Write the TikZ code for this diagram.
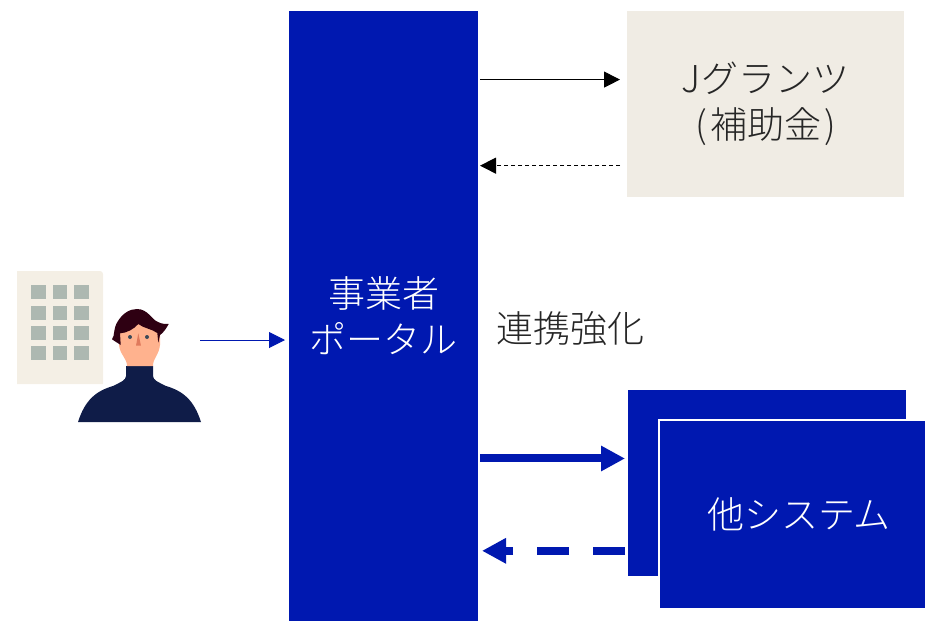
\documentclass[tikz,border=0pt]{standalone}
\usepackage{fontspec}
\usepackage{tikz}
\usetikzlibrary{
        arrows.meta,
        positioning
    }
\newfontfamily\jpfont{Noto Sans CJK JP Light}
\definecolor{portalblue}{HTML}{0018B0}
\definecolor{sandbox}{HTML}{F0ECE4}
\definecolor{towerbox}{HTML}{F4EFE5}
\definecolor{towerpane}{HTML}{ADB8B1}
\definecolor{sweater}{HTML}{0F1C48}
\definecolor{skin}{HTML}{FFB28E}
\definecolor{hair}{HTML}{2E0012}
\definecolor{nose}{HTML}{E07A5C}
\definecolor{eye}{HTML}{3C4A58}
\tikzset{
    label36/.style={font=\jpfont\fontsize{37}{46}\selectfont,align=center,inner sep=0pt},
    block/.style={label36,minimum height=186pt,minimum width=278pt,outer sep=0pt},
    thin flow/.style={line width=1pt,-{Triangle[length=16pt,width=16pt]}},
    thick flow/.style={portalblue,line width=8pt,-{Triangle[length=24pt,width=24pt]}}
}

\begin{document}
\begin{tikzpicture}[x=1pt,y=-1pt]
        \useasboundingbox (0,0) rectangle (925,621);
        \clip (0,0) rectangle (925,621);
        \fill[towerbox,rounded corners=3pt] (17,384) [sharp corners] -- (17,271) [rounded corners=3pt] -- (103,271) [sharp corners] -- (103,384) -- cycle;
        \foreach \x in {31,52.7,74}
            \foreach \y in {285.3,305.5,325.7,346}
                \fill[towerpane] (\x,\y) rectangle +(14.5,14);
        \fill[sweater] (126,366) -- (153,366) -- (153,376) .. controls (153,380) and (158,382) .. (166,386)
            .. controls (183,391) and (194,400) .. (201,422) -- (78,422)
            .. controls (85,400) and (96,391) .. (113,386) .. controls (121,382) and (126,380) .. (126,376) -- cycle;
        \fill[skin] (119,328) -- (119,345) .. controls (120,355) and (127,358) .. (127,366) -- (153,366)
            .. controls (153,358) and (159,355) .. (160,345) -- (160,328) -- (140,318) -- cycle;
        \fill[hair] (112,339.3) .. controls (115,336) and (113,328) .. (118,321) .. controls (123,313) and (130,309) .. (137,309)
            .. controls (148,309) and (152,320) .. (158,322) .. controls (162,324) and (165,324) .. (168.7,324)
            .. controls (166,329) and (163,333) .. (160,335) -- (158.3,342.7) -- (157.3,333) .. controls (152,329) and (143,328) .. (138.3,324)
            .. controls (134,329) and (127,333) .. (120,333.3) -- (120.7,345) -- cycle;
        \fill[eye] (130,337) circle (2pt) (147,337) circle (2pt);
        \fill[nose] (138.3,333.3) -- (141,345.7) -- (136,345.7) -- cycle;
        \coordinate (user) at (200,340);

        \node[block,fill=portalblue,text=white,minimum width=189pt,minimum height=610pt] (portal) at (383.5,316) {事業者\\ポータル};
        \node[block,fill=sandbox,text=black!85,minimum width=277pt] (jgrants) at (765.5,104) {Jグランツ\\(\kern3pt補助金\kern3pt)};
        \node[block,fill=portalblue] (other back) at (767,483) {};
        \node[block,fill=portalblue,text=white,draw=white,line width=2pt,minimum width=280pt,minimum height=189pt] (other) at (799,514.5) {他システム};
        \node[label36,text=black!85] (link) at (570.5,329) {連携強化};

        \draw[thin flow,portalblue,shorten >=4pt] (user) -- (portal.west |- user);
        \draw[thin flow,shorten <=2pt,shorten >=7pt] (portal.east |- jgrants.170.6) -- (jgrants.170.6);
        \draw[thin flow,dashed,dash pattern=on 4pt off 3pt,shorten <=7pt,shorten >=2pt] (jgrants.204.8) -- (portal.east |- jgrants.204.8);
        \draw[thick flow,shorten <=2pt,shorten >=3pt] (portal.east |- other back.170.6) -- (other back.170.6);
        \draw[thick flow,dash pattern=on 32pt off 24pt,shorten <=3pt,shorten >=4pt] (other back.206.2) -- (portal.east |- other back.206.2);
    \end{tikzpicture}
\end{document}
